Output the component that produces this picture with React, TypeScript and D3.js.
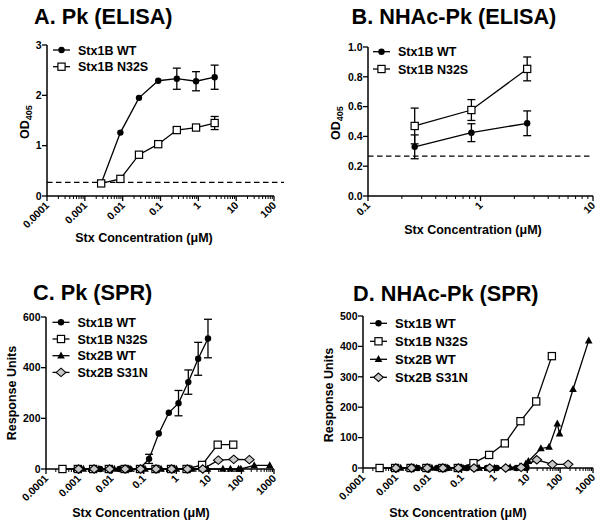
import React from 'react';
import * as d3 from 'd3';

// ---------- Panel A: Pk (ELISA) ----------
const concA = [0.0027, 0.0087, 0.027, 0.087, 0.27, 0.87, 2.7];
const odA_WT = [0.25, 1.26, 1.95, 2.29, 2.33, 2.28, 2.36];
const errA_WT = [0.0, 0.0, 0.0, 0.0, 0.21, 0.19, 0.24];
const odA_N32S = [0.25, 0.34, 0.82, 1.03, 1.31, 1.36, 1.45];
const errA_N32S = [0.0, 0.0, 0.0, 0.0, 0.05, 0.04, 0.13];
const cutoffA = 0.27;

// ---------- Panel B: NHAc-Pk (ELISA) ----------
const concB = [0.26, 0.83, 2.6];
const odB_WT = [0.33, 0.425, 0.488];
const errB_WT = [0.08, 0.06, 0.083];
const odB_N32S = [0.47, 0.577, 0.853];
const errB_N32S = [0.12, 0.07, 0.08];
const cutoffB = 0.268;

// ---------- Panel C: Pk (SPR) ----------
const concC_1WT = [0.0046, 0.0092, 0.018, 0.037, 0.073, 0.146, 0.29, 0.59, 1.17, 2.34, 4.7, 9.4];
const ruC_1WT = [0, 0, 0, 0, 0, 40, 140, 222, 260, 343, 435, 515];
const errC_1WT = [0, 0, 0, 0, 0, 18, 0, 0, 50, 48, 65, 76];
const concC_N32S = [0.00032, 0.00095, 0.0028, 0.0085, 0.026, 0.077, 0.23, 0.69, 2.07, 6.2, 18.7, 56];
const ruC_N32S = [0, 0, 0, 0, 0, 0, 0, 0, 0, 16, 96, 96];
const concC_2WT = [0.0014, 0.0042, 0.0125, 0.038, 0.11, 0.34, 1.0, 3.0, 9.1, 27, 46, 82, 96, 247, 740];
const ruC_2WT = [0, 0, 0, 0, 0, 0, 0, 0, 0, 0, 0, 0, 0, 14, 14];
const concC_S31N = [0.001, 0.003, 0.009, 0.027, 0.08, 0.24, 0.72, 2.2, 6.5, 19.5, 58, 175];
const ruC_S31N = [0, 0, 0, 0, 0, 0, 0, 0, 0, 35, 38, 37];

// ---------- Panel D: NHAc-Pk (SPR) ----------
const concD_1WT = [0.0046, 0.0092, 0.018, 0.037, 0.073, 0.146, 0.29, 0.59, 1.17, 2.34, 4.7, 9.4];
const ruD_1WT = [0, 0, 0, 0, 0, 0, 0, 0, 0, 0, 0, 0];
const concD_N32S = [0.00032, 0.00095, 0.0028, 0.0085, 0.026, 0.077, 0.23, 0.69, 2.07, 6.2, 18.7, 56];
const ruD_N32S = [0, 0, 0, 0, 0, 0, 16, 43, 81, 154, 219, 368];
const concD_2WT = [0.0014, 0.0042, 0.0125, 0.038, 0.11, 0.34, 1.0, 3.0, 6.0, 9.1, 10.8, 26, 46, 82, 96, 247, 740];
const ruD_2WT = [0, 0, 0, 0, 0, 0, 0, 2, 5, 14, 22, 64, 69, 146, 113, 259, 419];
const concD_S31N = [0.001, 0.003, 0.009, 0.027, 0.08, 0.24, 0.72, 2.2, 6.5, 19.5, 58, 175];
const ruD_S31N = [0, 0, 0, 0, 0, 0, 0, 0, 2, 27, 12, 12];

// ---------- tick labels / text ----------
const xLabelsA = ['0.0001', '0.001', '0.01', '0.1', '1', '10', '100'];
const xLabelsB = ['0.1', '1', '10'];
const xLabelsCD = ['0.0001', '0.001', '0.01', '0.1', '1', '10', '100', '1000'];
const yTicksA = [0, 1, 2, 3];
const yTicksB = [0, 0.2, 0.4, 0.6, 0.8, 1.0];
const yTicksC = [0, 200, 400, 600];
const yTicksD = [0, 100, 200, 300, 400, 500];
const legend2 = ['Stx1B WT', 'Stx1B N32S'];
const legend4 = ['Stx1B WT', 'Stx1B N32S', 'Stx2B WT', 'Stx2B S31N'];

const FONT = '"Liberation Sans", Arial, Helvetica, sans-serif';

type MarkerType = 'circle' | 'square' | 'triangle' | 'diamond';
type Series = { x: number[]; y: number[]; err?: number[]; marker: MarkerType };

function Marker({ type, cx, cy }: { type: MarkerType; cx: number; cy: number }) {
  if (type === 'circle') return <circle cx={cx} cy={cy} r={3.2} fill="#000" />;
  if (type === 'square')
    return <rect x={cx - 3.6} y={cy - 3.6} width={7.2} height={7.2} fill="#fff" stroke="#000" strokeWidth={1.2} />;
  if (type === 'triangle')
    return <path d={`M${cx},${cy - 4.2}L${cx + 3.8},${cy + 2.8}L${cx - 3.8},${cy + 2.8}Z`} fill="#000" />;
  return (
    <path
      d={`M${cx},${cy - 4.2}L${cx + 4.8},${cy}L${cx},${cy + 4.2}L${cx - 4.8},${cy}Z`}
      fill="#c8c8c8"
      stroke="#000"
      strokeWidth={1.1}
    />
  );
}

type PanelCfg = {
  left: number; right: number; top: number; bottom: number;
  xDomain: [number, number]; yDomain: [number, number];
  xLabels: string[]; yTicks: number[]; yFmt: (v: number) => string;
  series: Series[]; cutoff?: number; cutoffEnd?: number;
  title: string; titleX: number; titleY: number;
  yTitle: 'OD' | 'RU'; yTitleX: number; yTitleY: number;
  xTitleX: number; xTitleY: number;
  legend: string[]; legX: number; legY: number; legStep: number; legFont: number;
};

function decades(domain: [number, number]) {
  const lo = Math.round(Math.log10(domain[0]));
  const hi = Math.round(Math.log10(domain[1]));
  return d3.range(lo, hi + 1).map((e) => Number(Math.pow(10, e).toPrecision(12)));
}

function Panel({ c }: { c: PanelCfg }) {
  const xs = d3.scaleLog().domain(c.xDomain).range([c.left, c.right]);
  const ys = d3.scaleLinear().domain(c.yDomain).range([c.bottom, c.top]);
  const line = d3.line<[number, number]>().x((d) => xs(d[0])).y((d) => ys(d[1]));
  const majors = decades(c.xDomain);
  const minors: number[] = [];
  majors.slice(0, -1).forEach((m) => {
    for (let k = 2; k <= 9; k++) minors.push(m * k);
  });
  return (
    <g fontFamily={FONT} fontWeight="bold">
      <text x={c.titleX} y={c.titleY} fontSize={21.7}>{c.title}</text>
      {/* cutoff */}
      {c.cutoff !== undefined && (
        <line x1={c.left} x2={c.cutoffEnd} y1={ys(c.cutoff)} y2={ys(c.cutoff)} stroke="#000" strokeWidth={1.2} strokeDasharray="5.5,3.5" />
      )}
      {/* axes */}
      <line x1={c.left} x2={c.right} y1={c.bottom} y2={c.bottom} stroke="#000" strokeWidth={1.5} />
      <line x1={c.left} x2={c.left} y1={c.bottom} y2={c.top} stroke="#000" strokeWidth={1.5} />
      {majors.map((m, i) => (
        <g key={'mx' + i}>
          <line x1={xs(m)} x2={xs(m)} y1={c.bottom} y2={c.bottom + 5} stroke="#000" strokeWidth={1.3} />
          <text
            transform={`translate(${xs(m) + 3},${c.bottom + 10}) rotate(-45)`}
            textAnchor="end"
            fontSize={10.5}
          >
            {c.xLabels[i]}
          </text>
        </g>
      ))}
      {minors.map((m, i) => (
        <line key={'mn' + i} x1={xs(m)} x2={xs(m)} y1={c.bottom} y2={c.bottom + 3} stroke="#000" strokeWidth={1} />
      ))}
      {c.yTicks.map((t, i) => (
        <g key={'yt' + i}>
          <line x1={c.left - 5} x2={c.left} y1={ys(t)} y2={ys(t)} stroke="#000" strokeWidth={1.3} />
          <text x={c.left - 5.5} y={ys(t)} dy="0.36em" textAnchor="end" fontSize={10.5}>
            {c.yFmt(t)}
          </text>
        </g>
      ))}
      {/* axis titles */}
      <text x={c.xTitleX} y={c.xTitleY} textAnchor="middle" fontSize={12.5}>
        Stx Concentration (μM)
      </text>
      <text transform={`translate(${c.yTitleX},${c.yTitleY}) rotate(-90)`} textAnchor="middle" fontSize={12.5}>
        {c.yTitle === 'OD' ? (
          <>
            OD<tspan fontSize={9} dy={3}>405</tspan>
          </>
        ) : (
          'Response Units'
        )}
      </text>
      {/* series lines */}
      {c.series.map((s, si) => (
        <path
          key={'l' + si}
          d={line(s.x.map((x, i) => [x, s.y[i]] as [number, number])) || ''}
          fill="none"
          stroke="#000"
          strokeWidth={1.3}
        />
      ))}
      {/* error bars */}
      {c.series.map((s, si) =>
        s.err
          ? s.x.map((x, i) =>
              s.err![i] > 0 ? (
                <g key={'e' + si + '-' + i} stroke="#000" strokeWidth={1.3}>
                  <line x1={xs(x)} x2={xs(x)} y1={ys(s.y[i] - s.err![i])} y2={ys(s.y[i] + s.err![i])} />
                  <line x1={xs(x) - 4} x2={xs(x) + 4} y1={ys(s.y[i] - s.err![i])} y2={ys(s.y[i] - s.err![i])} />
                  <line x1={xs(x) - 4} x2={xs(x) + 4} y1={ys(s.y[i] + s.err![i])} y2={ys(s.y[i] + s.err![i])} />
                </g>
              ) : null
            )
          : null
      )}
      {/* markers */}
      {c.series.map((s, si) =>
        s.x.map((x, i) => <Marker key={'m' + si + '-' + i} type={s.marker} cx={xs(x)} cy={ys(s.y[i])} />)
      )}
      {/* legend */}
      {c.legend.map((name, i) => {
        const y = c.legY + i * c.legStep;
        return (
          <g key={'lg' + i}>
            <line x1={c.legX} x2={c.legX + 17} y1={y} y2={y} stroke="#000" strokeWidth={1.3} />
            <Marker type={c.series[i].marker} cx={c.legX + 8.5} cy={y} />
            <text x={c.legX + 25} y={y} dy="0.36em" fontSize={c.legFont}>
              {name}
            </text>
          </g>
        );
      })}
    </g>
  );
}

export default function App() {
  const panels: PanelCfg[] = [
    {
      left: 47, right: 274, top: 45, bottom: 196,
      xDomain: [0.0001, 100], yDomain: [0, 3], xLabels: xLabelsA, yTicks: yTicksA, yFmt: (v) => d3.format('d')(v),
      series: [
        { x: concA, y: odA_WT, err: errA_WT, marker: 'circle' },
        { x: concA, y: odA_N32S, err: errA_N32S, marker: 'square' },
      ],
      cutoff: cutoffA, cutoffEnd: 284,
      title: 'A. Pk (ELISA)', titleX: 34, titleY: 23.5,
      yTitle: 'OD', yTitleX: 29, yTitleY: 122,
      xTitleX: 144, xTitleY: 242,
      legend: legend2, legX: 53, legY: 50, legStep: 16.7, legFont: 12.5,
    },
    {
      left: 368, right: 593, top: 47, bottom: 196,
      xDomain: [0.1, 10], yDomain: [0, 1], xLabels: xLabelsB, yTicks: yTicksB, yFmt: (v) => d3.format('.1f')(v),
      series: [
        { x: concB, y: odB_WT, err: errB_WT, marker: 'circle' },
        { x: concB, y: odB_N32S, err: errB_N32S, marker: 'square' },
      ],
      cutoff: cutoffB, cutoffEnd: 593,
      title: 'B. NHAc-Pk (ELISA)', titleX: 351.5, titleY: 23.5,
      yTitle: 'OD', yTitleX: 340, yTitleY: 123,
      xTitleX: 473, xTitleY: 234,
      legend: legend2, legX: 373, legY: 51.7, legStep: 17.3, legFont: 12.5,
    },
    {
      left: 46, right: 274, top: 317, bottom: 469,
      xDomain: [0.0001, 1000], yDomain: [0, 600], xLabels: xLabelsCD, yTicks: yTicksC, yFmt: (v) => d3.format('d')(v),
      series: [
        { x: concC_1WT, y: ruC_1WT, err: errC_1WT, marker: 'circle' },
        { x: concC_N32S, y: ruC_N32S, marker: 'square' },
        { x: concC_2WT, y: ruC_2WT, marker: 'triangle' },
        { x: concC_S31N, y: ruC_S31N, marker: 'diamond' },
      ],
      title: 'C. Pk (SPR)', titleX: 33, titleY: 300,
      yTitle: 'RU', yTitleX: 16, yTitleY: 393,
      xTitleX: 141, xTitleY: 517,
      legend: legend4, legX: 52.5, legY: 322.3, legStep: 16.7, legFont: 12.5,
    },
    {
      left: 363, right: 593, top: 316, bottom: 468,
      xDomain: [0.0001, 1000], yDomain: [0, 500], xLabels: xLabelsCD, yTicks: yTicksD, yFmt: (v) => d3.format('d')(v),
      series: [
        { x: concD_1WT, y: ruD_1WT, marker: 'circle' },
        { x: concD_N32S, y: ruD_N32S, marker: 'square' },
        { x: concD_2WT, y: ruD_2WT, marker: 'triangle' },
        { x: concD_S31N, y: ruD_S31N, marker: 'diamond' },
      ],
      title: 'D. NHAc-Pk (SPR)', titleX: 353, titleY: 300.5,
      yTitle: 'RU', yTitleX: 333, yTitleY: 395,
      xTitleX: 458, xTitleY: 517,
      legend: legend4, legX: 370, legY: 323.3, legStep: 18, legFont: 13,
    },
  ];
  return (
    <svg
      width={600}
      height={523}
      viewBox="0 0 600 523"
      style={{ position: 'absolute', left: 0, top: 0, background: '#fff' }}
    >
      <rect width={600} height={523} fill="#fff" />
      {panels.map((p, i) => (
        <Panel key={i} c={p} />
      ))}
    </svg>
  );
}
